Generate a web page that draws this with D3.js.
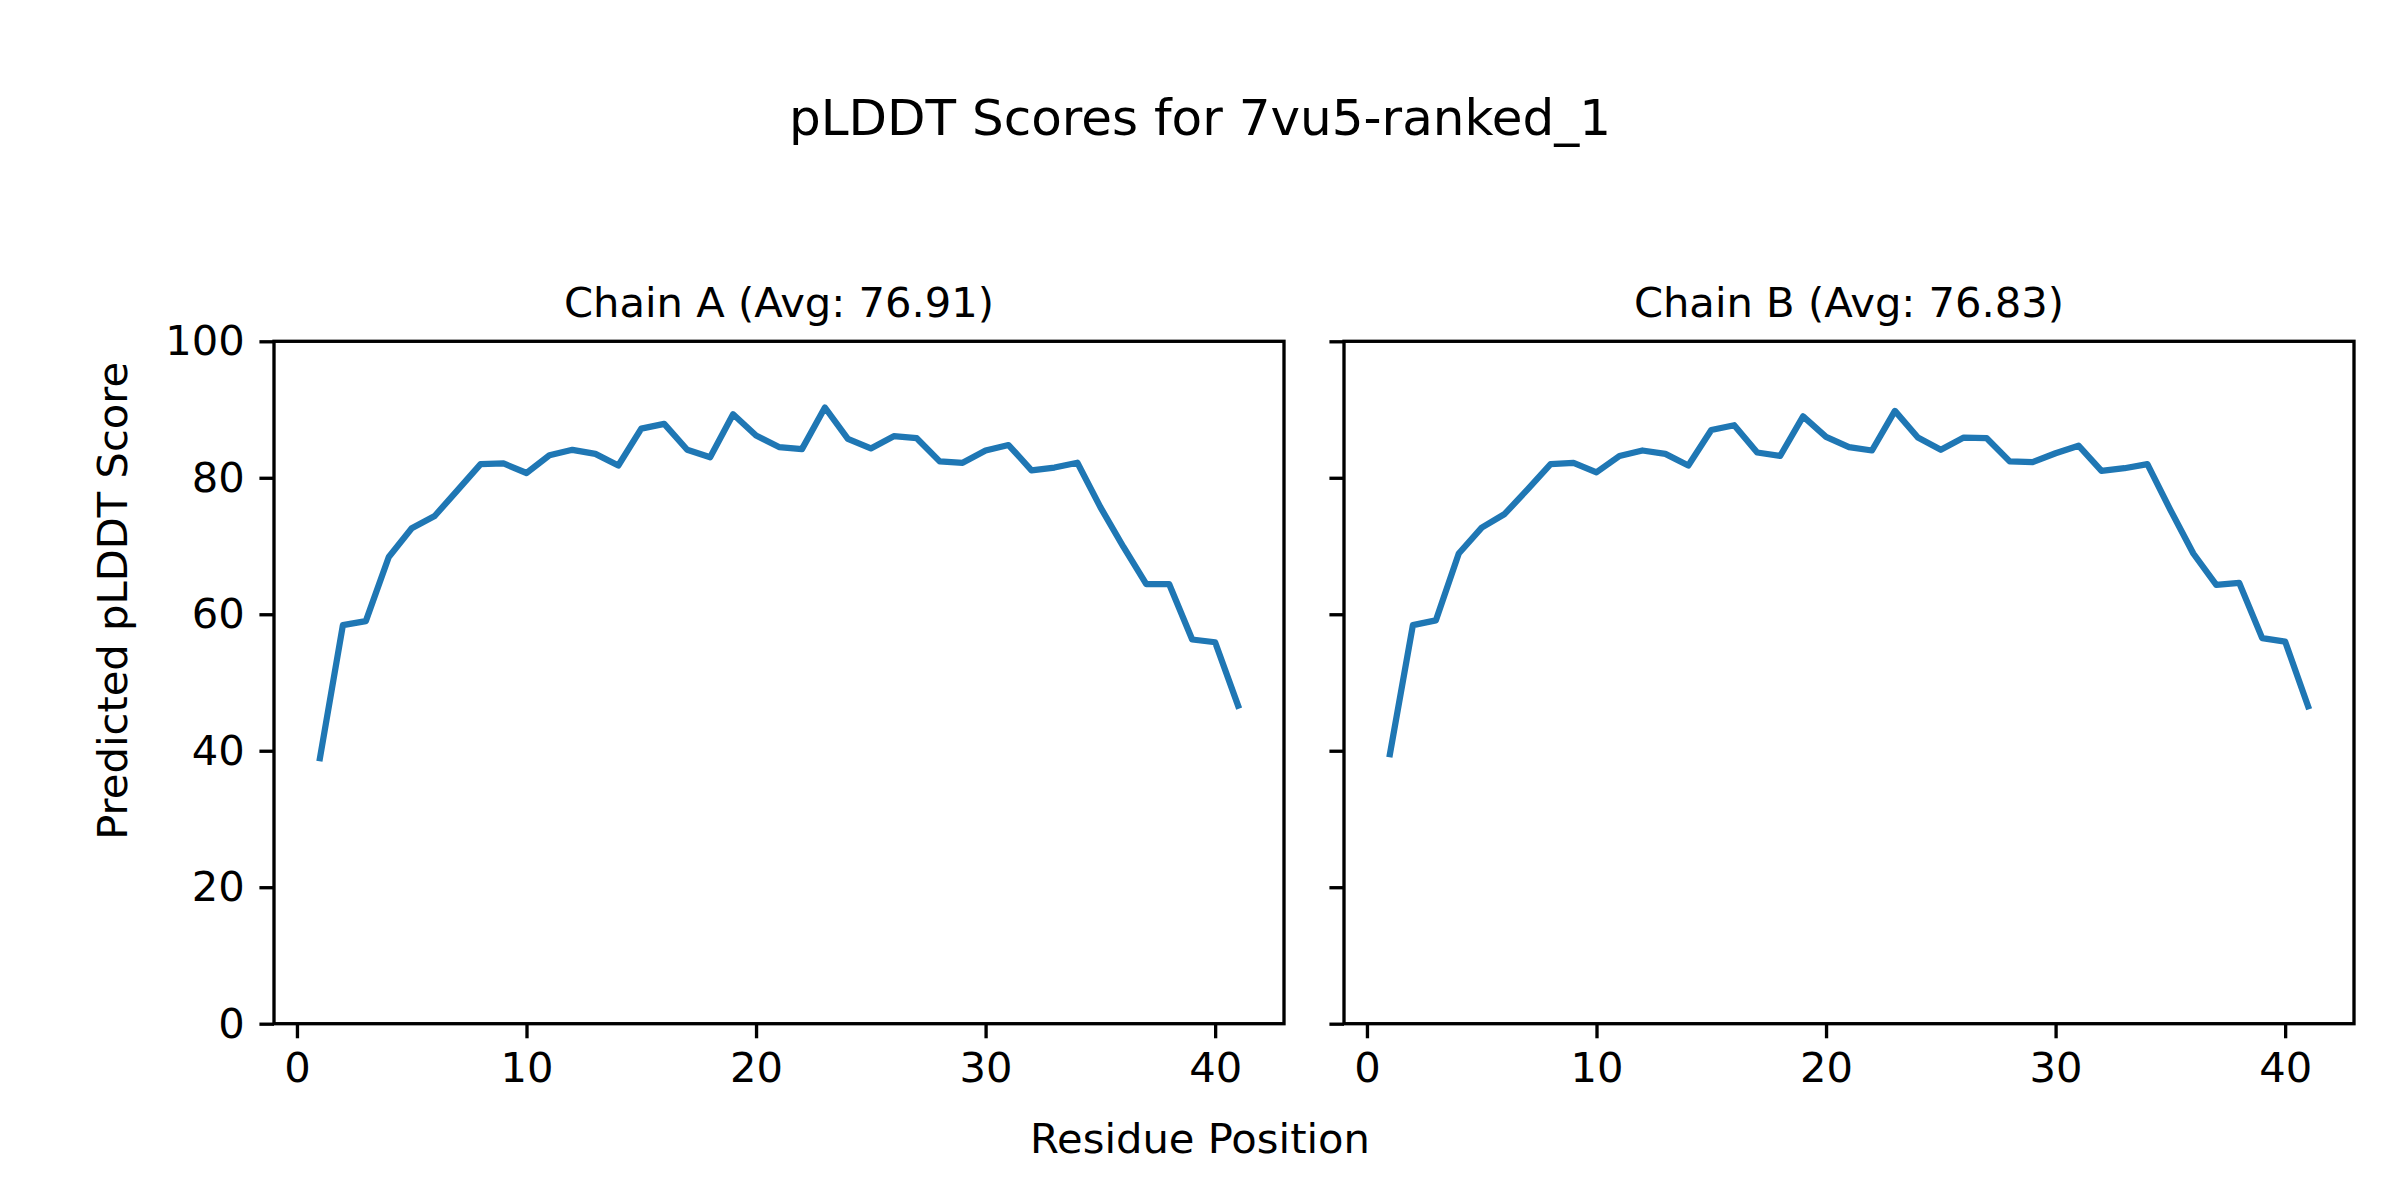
<!DOCTYPE html>
<html>
<head>
<meta charset="utf-8">
<script src="https://cdn.jsdelivr.net/npm/d3@7"></script>
<style>
  html, body { margin: 0; padding: 0; background: #fff; }
  svg text { font-family: "DejaVu Sans", sans-serif; fill: #000; }
</style>
</head>
<body>
<svg id="chart" width="2400" height="1200"></svg>
<script>
// ---- data ----
const residues = d3.range(1, 42);
const chainA = [38.9, 58.4, 59.0, 68.4, 72.6, 74.4, 78.2, 82.0, 82.1, 80.7,
                83.3, 84.1, 83.5, 81.8, 87.2, 87.9, 84.1, 83.0, 89.3, 86.2,
                84.5, 84.2, 90.3, 85.7, 84.3, 86.1, 85.8, 82.4, 82.2, 84.0,
                84.8, 81.1, 81.5, 82.2, 75.7, 69.9, 64.4, 64.4, 56.3, 55.9, 46.6];
const chainB = [39.5, 58.4, 59.1, 68.9, 72.7, 74.7, 78.3, 82.0, 82.2, 80.8,
                83.2, 84.0, 83.5, 81.8, 87.0, 87.7, 83.7, 83.2, 89.0, 86.0,
                84.5, 84.0, 89.8, 85.9, 84.1, 85.9, 85.8, 82.4, 82.3, 83.6,
                84.7, 81.0, 81.4, 82.0, 75.3, 68.9, 64.3, 64.6, 56.5, 56.0, 46.5];
const panelTitles = ["Chain A (Avg: 76.91)", "Chain B (Avg: 76.83)"];
const xTicks = [0, 10, 20, 30, 40];
const yTicks = [0, 20, 40, 60, 80, 100];
const mainTitle = "pLDDT Scores for 7vu5-ranked_1";
const xLabel = "Residue Position";
const yLabel = "Predicted pLDDT Score";

// ---- layout ----
(function () {
  const pt = 300 / 72;
  const svg = d3.select("#chart");
  const axTop = 341.3, axBottom = 1023.7;
  const panels = [
    { left: 274, right: 1284, values: chainA, title: panelTitles[0], showY: true },
    { left: 1344, right: 2354, values: chainB, title: panelTitles[1], showY: false }
  ];
  const y = d3.scaleLinear().domain([0, 100]).range([axBottom, axTop]);
  const fs = 10 * pt;

  panels.forEach(p => {
    const x = d3.scaleLinear().domain([-1, 43]).range([p.left, p.right]);
    const g = svg.append("g");

    g.append("path")
      .datum(residues.map((r, i) => [r, p.values[i]]))
      .attr("fill", "none")
      .attr("stroke", "#1f77b4")
      .attr("stroke-width", 1.5 * pt)
      .attr("stroke-linejoin", "round")
      .attr("stroke-linecap", "square")
      .attr("d", d3.line().x(d => x(d[0])).y(d => y(d[1])));

    g.append("rect")
      .attr("x", p.left).attr("y", axTop)
      .attr("width", p.right - p.left).attr("height", axBottom - axTop)
      .attr("fill", "none").attr("stroke", "#000")
      .attr("stroke-width", 0.8 * pt);

    const xa = g.append("g").attr("transform", `translate(0,${axBottom})`)
      .call(d3.axisBottom(x).tickValues(xTicks).tickSize(3.5 * pt).tickPadding(3.5 * pt).tickFormat(d3.format("d")));
    const ya = g.append("g").attr("transform", `translate(${p.left},0)`)
      .call(d3.axisLeft(y).tickValues(yTicks).tickSize(3.5 * pt).tickPadding(3.5 * pt)
        .tickFormat(p.showY ? d3.format("d") : () => ""));
    [xa, ya].forEach(a => {
      a.select(".domain").remove();
      a.selectAll(".tick line").attr("stroke", "#000").attr("stroke-width", 0.8 * pt);
      a.selectAll(".tick text").attr("font-family", "DejaVu Sans").attr("font-size", fs).attr("fill", "#000");
    });

    g.append("text")
      .attr("x", (p.left + p.right) / 2).attr("y", 316.7)
      .attr("text-anchor", "middle").attr("font-size", fs)
      .text(p.title);
  });

  svg.append("text")
    .attr("x", 1200).attr("y", 135)
    .attr("text-anchor", "middle").attr("font-size", 12 * pt)
    .text(mainTitle);

  svg.append("text")
    .attr("x", 1200).attr("y", 1152.7)
    .attr("text-anchor", "middle").attr("font-size", fs)
    .text(xLabel);

  svg.append("text")
    .attr("transform", "translate(126.7,600.8) rotate(-90)")
    .attr("text-anchor", "middle").attr("font-size", fs)
    .text(yLabel);
})();
</script>
</body>
</html>
